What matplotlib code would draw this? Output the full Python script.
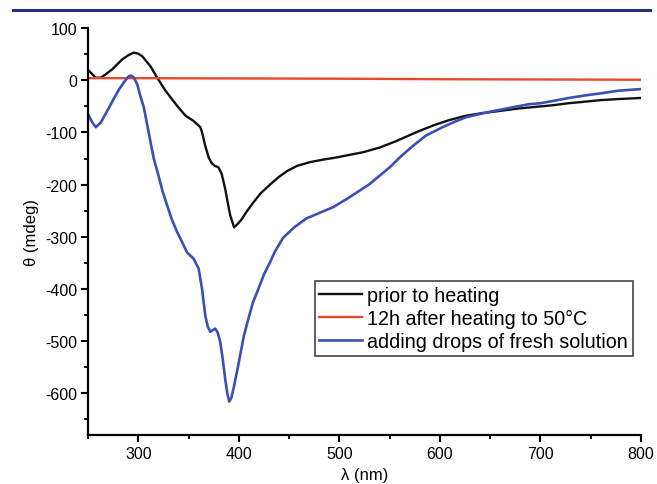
import matplotlib.pyplot as plt
from matplotlib.ticker import MultipleLocator
from matplotlib.lines import Line2D

plt.rcParams['font.family'] = ['Liberation Sans', 'DejaVu Sans']
plt.rcParams['axes.unicode_minus'] = False

# CD spectra
wl_prior = [251, 257.7, 262.7, 268, 274, 284, 290, 295.6, 300, 304, 312, 318.8, 327,
            338.6, 347, 355, 358.4, 361.7, 363.4, 366.6, 370, 373, 376, 379.8, 383,
            386.4, 389, 391.4, 395.3, 399, 403, 408, 414.5, 422, 431, 440, 448, 458,
            470.6, 484, 497, 510, 523.4, 540, 556, 576, 592.7, 608, 625.7, 642, 658.7,
            678.6, 695, 711.5, 728, 744.6, 760, 777.5, 799]
th_prior = [18, 5, 5, 12, 21, 40, 48, 53, 51, 46, 27, 5, -20,
            -49, -68, -78, -84, -90, -100, -126, -148, -159, -164, -167, -180,
            -208, -235, -259, -282, -275, -266, -251, -234, -216, -200, -185, -174, -164,
            -157, -152, -148, -143, -138, -129, -117, -100, -87, -77, -68, -63, -59,
            -54, -51, -48, -44, -41, -38, -36, -34]

wl_heat = [250, 300, 400, 500, 600, 700, 800]
th_heat = [4, 4, 3.5, 3, 2, 1.5, 1]

wl_fresh = [250, 254, 257.7, 262.7, 267, 271, 276, 281, 286, 290.7, 293, 295.6, 299,
            302, 305.5, 309, 312, 315.5, 320.4, 324, 328.7, 333, 338.6, 342, 348.5,
            355, 360, 363.4, 366.6, 369, 371.6, 374, 376.5, 379, 381.5, 384, 386.4,
            388.5, 390.4, 392.5, 394.7, 398, 401.3, 405, 409.5, 414, 419.4, 425, 431,
            436, 444, 455, 467, 480.5, 494, 507, 519, 530, 540, 550, 560, 573, 586,
            602.6, 614, 625.7, 645.5, 658.7, 672, 688, 700, 711.5, 728, 744.6, 760,
            777.5, 799]
th_fresh = [-65, -80, -90, -81, -66, -52, -34, -17, -3, 8, 9, 5, -8,
            -30, -52, -87, -117, -151, -185, -212, -240, -265, -291, -304, -330,
            -342, -361, -400, -451, -472, -482, -479, -476, -484, -502, -535, -572,
            -600, -616, -609, -591, -560, -527, -490, -457, -426, -400, -372, -349,
            -328, -302, -282, -265, -254, -243, -228, -213, -199, -183, -167, -148, -126, -106,
            -90, -80, -71, -62, -57, -52, -46, -44, -40, -34, -29, -25,
            -20, -17]

labels = ['prior to heating', '12h after heating to 50°C', 'adding drops of fresh solution']
colors = ['#111111', '#e8492a', '#3b4fb4']

fig = plt.figure(figsize=(6.57, 4.85), dpi=100)
ax = fig.add_axes([0.134, 0.101, 0.8417, 0.839])

ax.plot(wl_prior, th_prior, color=colors[0], lw=1.7, label=labels[0])
ax.plot(wl_heat, th_heat, color=colors[1], lw=1.7, label=labels[1])
ax.plot(wl_fresh, th_fresh, color=colors[2], lw=1.9, label=labels[2])

ax.set_xlim(250, 800)
ax.set_ylim(-680, 100)
ax.xaxis.set_major_locator(MultipleLocator(100))
ax.xaxis.set_minor_locator(MultipleLocator(50))
ax.yaxis.set_major_locator(MultipleLocator(100))
ax.yaxis.set_minor_locator(MultipleLocator(50))

for s in ['top', 'right']:
    ax.spines[s].set_visible(False)
for s in ['left', 'bottom']:
    ax.spines[s].set_linewidth(1.6)
ax.tick_params(which='major', direction='out', length=5, width=1.5, labelsize=11.5, pad=3)
ax.tick_params(which='minor', direction='out', length=3, width=1.3)

ax.set_xlabel('λ (nm)', fontsize=12, labelpad=4)
ax.set_ylabel('θ (mdeg)', fontsize=12, labelpad=4)

leg = ax.legend(loc='lower left', bbox_to_anchor=(0.41, 0.195), fontsize=14.2,
                frameon=True, fancybox=False, framealpha=1, edgecolor='#444444',
                handlelength=2.2, handletextpad=0.25, labelspacing=0.22,
                borderpad=0.22, borderaxespad=0)
leg.get_frame().set_linewidth(1.2)

# dark rule across the top of the figure
fig.add_artist(Line2D([0.02, 0.99], [0.978, 0.978], color='#23307a', lw=2.2,
                      transform=fig.transFigure))

fig.savefig('out.png', dpi=100)
